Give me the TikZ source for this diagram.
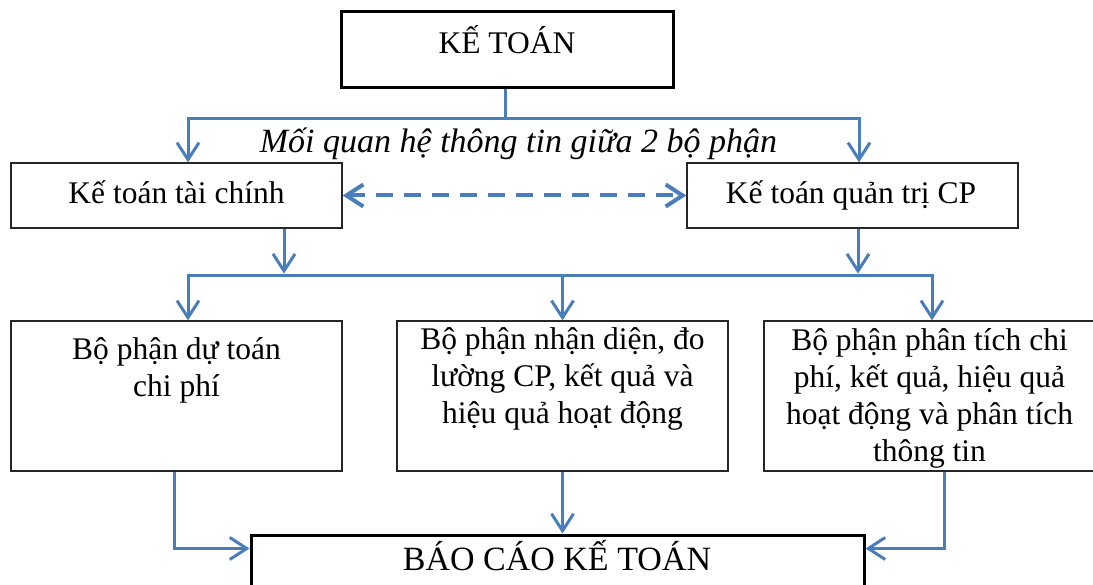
\documentclass[tikz,border=0pt]{standalone}
\usepackage{fontspec}
\setmainfont{Liberation Serif}
\usetikzlibrary{arrows.meta,calc}
\definecolor{linkblue}{HTML}{4A7EBB}
\tikzset{
  thickbox/.style={draw=black, line width=3pt, fill=white, inner sep=0pt},
  thinbox/.style={draw=black!85, line width=1.3pt, fill=white, inner sep=0pt},
  conn/.style={draw=linkblue, line width=3pt},
  arr/.style={conn, -{Straight Barb[length=17pt,width=22pt]}},
  dasharr/.style={draw=linkblue, line width=4pt, dash pattern=on 17pt off 11pt,
    {Straight Barb[length=17pt,width=22pt]}-{Straight Barb[length=17pt,width=22pt]}},
  txt/.style={font=\fontsize{31.5}{37}\selectfont, inner sep=0pt, align=center},
}
\begin{document}
\begin{tikzpicture}[x=1pt,y=-1pt]
\useasboundingbox (0,0) rectangle (1093,585);
\clip (0,0) rectangle (1093,585);

% boxes
\node[thickbox, minimum width=332, minimum height=76] (top) at (507,50) {};
\node[thinbox, minimum width=331, minimum height=65] (ktc) at (176.5,195.5) {};
\node[thinbox, minimum width=331, minimum height=65] (kqt) at (852.5,195.5) {};
\node[thinbox, minimum width=331, minimum height=150] (b1) at (176.5,396) {};
\node[thinbox, minimum width=331, minimum height=150] (b2) at (562.5,396) {};
\node[thinbox, minimum width=336, minimum height=150] (b3) at (932,396) {};
\node[thickbox, minimum width=613, minimum height=90] (rep) at (557.5,580) {};

% texts (multi-line nodes are placed by the baseline of their last line)
\node[txt, anchor=base] (topT) at (507,54) {KẾ TOÁN};
\node[font=\fontsize{34}{40}\selectfont\itshape, inner sep=0pt, anchor=base] (relT) at (518.5,153)
  {Mối quan hệ thông tin giữa 2 bộ phận};
\node[txt, anchor=base] (ktcT) at (176.5,204) {Kế toán tài chính};
\node[txt, anchor=base] (kqtT) at (851,204) {Kế toán quản trị CP};
\node[txt, anchor=base] (b1T) at (176.5,397) {Bộ phận dự toán\\chi phí};
\node[txt, anchor=base] (b2T) at (562.5,424) {Bộ phận nhận diện, đo\\lường CP, kết quả và\\hiệu quả hoạt động};
\node[txt, anchor=base] (b3T) at (929.5,461) {Bộ phận phân tích chi\\phí, kết quả, hiệu quả\\hoạt động và phân tích\\thông tin};
\node[font=\fontsize{34}{40}\selectfont, inner sep=0pt, anchor=base] (repT) at (557,570) {BÁO CÁO KẾ TOÁN};

% connectors from the top box
\draw[arr] ([xshift=-2pt]top.south) -- ++(0,29) -| ([xshift=11.5pt]ktc.north);
\draw[arr] ([xshift=-2pt]top.south) ++(0,29) -| ([xshift=6.5pt]kqt.north);

% exchange between the two branches
\draw[dasharr] (ktc.east) -- (kqt.west);

% into the lower bus
\coordinate (bus) at (562.5,276);
\draw[arr] ([xshift=107.5pt]ktc.south) -- ++(0,45);
\draw[arr] ([xshift=5.5pt]kqt.south) -- ++(0,45);
\draw[arr] (bus) -| ([xshift=11.5pt]b1.north);
\draw[arr] (bus) -| (b3.north);
\draw[arr] (bus) -- (b2.north);

% into the report
\draw[arr] ([xshift=-2.5pt]b1.south) |- ($(rep.north west)+(0,15)$);
\draw[arr] (b2.south) -- (rep.north -| b2.south);
\draw[arr] ([xshift=12pt]b3.south) |- ($(rep.north east)+(0,15)$);
\end{tikzpicture}
\end{document}
